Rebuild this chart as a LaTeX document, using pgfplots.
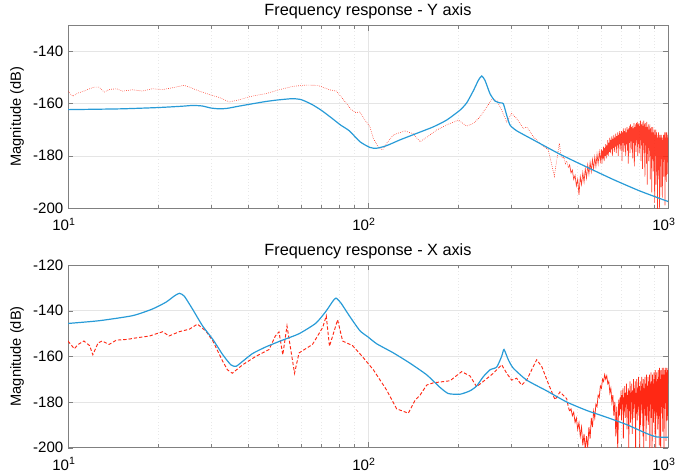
\documentclass[border=0pt]{standalone}
\usepackage{fontspec}
\setmainfont{Liberation Sans}
\usepackage{pgfplots}
\pgfplotsset{compat=1.18}

\definecolor{mblue}{RGB}{40,155,215}
\definecolor{mred}{RGB}{255,40,20}

\begin{document}
\begin{tikzpicture}
% ---- Y axis ----
\begin{axis}[
  width=450pt, height=137pt, scale only axis,
  at={(0,0)}, anchor=south west,
  xmode=log, xmin=10, xmax=1000,
  xtick={10,100,1000},
  xticklabels={10\textsuperscript{1},10\textsuperscript{2},10\textsuperscript{3}},
  minor xtick={20,30,40,50,60,70,80,90,200,300,400,500,600,700,800,900},
  ymin=-200, ymax=-130, ytick={-200,-180,-160,-140},
  grid=both,
  major grid style={black!10},
  minor grid style={black!9, dotted},
  axis line style={black!50},
  tick style={black!50},
  major tick length=4pt, minor tick length=2.5pt,
  ylabel={Magnitude (dB)},
  tick label style={font=\fontsize{11.3}{12}\selectfont},
  xticklabel style={yshift=-4pt, xshift=-3pt},
  label style={font=\fontsize{11}{13}\selectfont},
  title style={font=\fontsize{12.2}{13}\selectfont, yshift=-5pt},
  /pgf/number format/assume math mode=true,
  title={Frequency response - Y axis}]
\addplot[color=mred, line width=0.45pt, densely dotted] coordinates {
(10,-155.2) (10.37,-157.2) (10.77,-156) (11.3,-155.2) (11.8,-154.3) (12.2,-153.7) (12.7,-153.7)
(13.2,-155.6) (13.7,-154.6) (14.5,-154.3) (15.2,-155.2) (16.4,-154.7) (17.7,-155.2) (19.1,-154.3)
(20.7,-154.6) (22.3,-153.9) (24.4,-153) (25.4,-153.7) (27.4,-155.2) (29.6,-156.5) (32,-157.7)
(34.5,-159.4) (37.2,-158.5) (41.2,-157.1) (45.6,-156.2) (50.5,-154.7) (56,-153.4) (62,-152.9)
(68,-153) (74.5,-154.7) (78.4,-155.2) (82.3,-158.1) (87.8,-162.2) (91,-163.4) (94,-163.2)
(97.7,-166.3) (101.5,-168.9) (104.2,-173.3) (108.2,-176.7) (111.9,-177.7) (115.4,-175.2)
(121.5,-172) (132.8,-170.4) (141.6,-171.6) (149.1,-174.6) (156.9,-172.9) (169.4,-170.1)
(182.9,-168.2) (200,-166.3) (213.3,-168.6) (224.4,-167.6) (236.2,-165.1) (248.6,-161.3)
(258.4,-158.5) (268.5,-158.7) (279,-162.5) (289.9,-167) (301.2,-163.8) (313,-165.7)
(329.4,-169.5) (338,-168.9) (355.8,-172.7) (379.3,-175.8) (399.1,-177.7) (417.9,-187.8)
(434.3,-175.2) (440,-180) (445,-181) (450,-180.5) (455,-183) (460,-182) (465,-184.5)
};
\addplot[color=mred, line width=0.5pt, opacity=0.9] coordinates {
(465,-184.5) (470,-183.5) (475,-186.5)
(480,-185.5) (485,-189) (490,-187.5) (495,-191.5) (500,-189) (505,-195) (510,-188) (515,-191)
(520,-186.5) (525,-190) (530,-185) (535,-188.5) (540,-183.5) (545,-187) (550,-182.5) (555,-186)
(560,-181.5) (565,-185) (570,-180.5) (575,-184) (580,-179.5) (585,-183) (590,-178.5) (595,-182)
(600,-177.5) (602.5,-183) (605,-178) (607.5,-181) (610,-176.5) (612.5,-182) (615,-177) (617.5,-180)
(620,-175.5) (622.5,-181) (625,-176) (627.5,-179.5) (630,-174) (632.5,-180) (635,-175) (637.5,-178.5)
(640,-173) (642.5,-179) (645,-174) (647.5,-177.5) (650,-172.5) (652.5,-180) (655,-173.5) (657.5,-177)
(660,-172) (662.5,-178.5) (665,-173) (667.5,-176.5) (670,-171.5) (672.5,-179) (675,-172.5) (677.5,-176)
(680,-171) (682.5,-180) (685,-172) (687.5,-175.5) (690,-170.5) (692.5,-178) (695,-171.5) (697.5,-176)
(700,-170.5) (702.5,-182) (705,-171) (707.5,-175) (710,-169.5) (712.5,-178.5) (715,-170.5) (717.5,-176)
(720,-169.5) (722.5,-180) (725,-171) (727.5,-175.5) (730,-169) (732.5,-178) (735,-170) (737.5,-183)
(740,-169.5) (742.5,-175) (745,-168.5) (747.5,-179) (750,-168) (752.5,-174.5) (755,-169) (757.5,-177.5)
(760,-168.5) (762.5,-181) (765,-169.5) (767.5,-175) (770,-167.5) (772.5,-184) (775,-169) (777.5,-176)
(780,-168) (782.5,-178.5) (785,-167.5) (787.5,-174) (790,-167) (792.5,-180) (795,-168) (797.5,-175.5)
(800,-167.5) (802.5,-179) (805,-168.5) (807.5,-174) (810,-166.5) (812.5,-182) (815,-168) (817.5,-176)
(820,-167) (822.5,-185) (825,-168.5) (827.5,-175) (830,-166.5) (832.5,-179) (835,-168) (837.5,-188)
(840,-167.5) (842.5,-176) (845,-169) (847.5,-183) (850,-167) (852.5,-191) (855,-169) (857.5,-177)
(860,-168) (862.5,-182) (865,-170) (867.5,-178) (870,-168) (872.5,-189) (875,-169.5) (877.5,-180)
(880,-169) (882.5,-194) (885,-171) (887.5,-179) (890,-169) (892.5,-186) (895,-171) (897.5,-182)
(900,-170) (902.5,-198) (905,-172) (907.5,-180) (910,-170) (912.5,-191) (915,-171) (917.5,-184)
(920,-172) (922.5,-201) (925,-173) (927.5,-181) (930,-171) (932.5,-189) (935,-172) (937.5,-201)
(940,-173) (942.5,-184) (945,-172) (947.5,-192) (950,-172) (952.5,-180) (955,-173) (957.5,-196)
(960,-174) (962.5,-182) (965,-172) (967.5,-188) (970,-172) (972.5,-179) (975,-171) (977.5,-199)
(980,-173) (982.5,-184) (985,-171) (987.5,-190) (990,-171) (992.5,-180) (995,-172) (997.5,-187)
(1000,-173)
};
\addplot[color=mblue, line width=0.9pt, smooth, tension=0.35] coordinates {
(10,-162.3) (15,-162) (20,-161.5) (24,-161) (26,-160.7) (28,-160.9) (30,-161.7) (32,-162)
(34,-161.8) (37,-161) (41,-160.1) (45.6,-159.2) (50,-158.6) (56,-158.1) (60,-158.5) (65,-160.3)
(70,-162.6) (76,-165.7) (81,-168.2) (86.6,-170.4) (94,-174.6) (101.5,-176.8) (106.9,-177.1)
(115.4,-176.1) (127.8,-173.9) (145.3,-171.4) (165.1,-168.9) (182.9,-166.3) (202.6,-162.5)
(213.3,-159.7) (224.4,-155.1) (233.2,-151.1) (239.3,-149.4) (245.5,-151.1) (255.1,-156.2)
(265.1,-159) (275.4,-159.7) (282.5,-160) (289.9,-164.4) (297.4,-168.2) (313,-170.4)
(355.8,-173.9) (436.5,-179.4) (535.8,-184.3) (657.4,-189.1) (806.6,-193.5) (1000,-197.5)
};
\end{axis}

% ---- X axis ----
\begin{axis}[
  width=450pt, height=137pt, scale only axis,
  at={(0,-42.75pt)}, anchor=north west,
  xmode=log, xmin=10, xmax=1000,
  xtick={10,100,1000},
  xticklabels={10\textsuperscript{1},10\textsuperscript{2},10\textsuperscript{3}},
  minor xtick={20,30,40,50,60,70,80,90,200,300,400,500,600,700,800,900},
  ymin=-200, ymax=-120, ytick={-200,-180,-160,-140,-120},
  grid=both,
  major grid style={black!10},
  minor grid style={black!9, dotted},
  axis line style={black!50},
  tick style={black!50},
  major tick length=4pt, minor tick length=2.5pt,
  ylabel={Magnitude (dB)},
  tick label style={font=\fontsize{11.3}{12}\selectfont},
  xticklabel style={yshift=-4pt, xshift=-3pt},
  label style={font=\fontsize{11}{13}\selectfont},
  title style={font=\fontsize{12.2}{13}\selectfont, yshift=-5pt},
  /pgf/number format/assume math mode=true,
  title={Frequency response - X axis}]
\addplot[color=mred, line width=0.7pt, dash pattern=on 2.5pt off 1.5pt] coordinates {
(10,-153.3) (10.5,-156.7) (10.8,-154.8) (11.3,-153.3) (11.8,-155.3) (12.1,-159.3) (12.6,-154.1)
(13,-153.3) (13.7,-154.8) (14.5,-152.9) (15.7,-152.6) (16.9,-151.9) (18.7,-151.1) (20.7,-149.2)
(21.7,-151.1) (23.5,-149.2) (25.4,-148.1) (27,-145.9) (28.8,-148.9) (30.4,-153.3) (32.8,-162.2)
(34,-165.9) (35.3,-167.4) (38.2,-163.7) (42.3,-160) (46.8,-157) (49.1,-151.1) (50.5,-149.3)
(52,-159.3) (53.7,-146.7) (56.9,-167.4) (58.9,-158.5) (65.3,-154.8) (70.6,-147.4) (72.6,-142.3)
(74.4,-155.6) (79.2,-144) (82.3,-153.3) (88.8,-155.3) (95.2,-159.7) (104.2,-165.9) (115.4,-174.8)
(124.6,-183) (136.3,-184.9) (143.4,-179.3) (149.1,-177) (156.9,-172.6) (165.1,-171.6)
(187.7,-170.7) (205.2,-166.7) (218.8,-168.6) (230.2,-173.3) (245.5,-170.4) (261.7,-167.4)
(279,-163.7) (289.9,-167.4) (301.2,-170.4) (313,-169.6) (325.2,-172.6) (338,-170.4)
(351.3,-165.9) (365,-161.5) (379.3,-164.4) (399.1,-171.9) (420.1,-179) (436.5,-175.6)
(459.4,-178.5) (465,-182) (470,-184)
};
\addplot[color=mred, line width=0.55pt] coordinates {
(470,-184) (475,-183) (480,-186) (485,-184.5) (490,-189) (495,-187) (500,-192)
(505,-189) (510,-195) (515,-191) (520,-199) (525,-194) (530,-201) (535,-195) (540,-200)
(545,-191) (550,-196) (555,-187) (560,-191) (565,-184) (570,-187) (575,-181) (580,-182)
(585,-177) (590,-178) (595,-173) (600,-174) (605,-170) (610,-171) (615,-168) (620,-170)
(625,-168.5) (630,-172) (635,-171) (640,-176) (645,-174) (650,-180) (655,-177) (660,-186)
(665,-180) (670,-195) (675,-182) (680,-201) (685,-179)
(690,-186) (692.5,-178) (695,-183) (697.5,-175) (700,-188) (702.5,-177) (705,-181) (707.5,-174)
(710,-196) (712.5,-178) (715,-184) (717.5,-173) (720,-187) (722.5,-176) (725,-181) (727.5,-172)
(730,-192) (732.5,-177) (735,-183) (737.5,-174) (740,-201) (742.5,-175) (745,-184) (747.5,-171)
(750,-189) (752.5,-176) (755,-180) (757.5,-172) (760,-194) (762.5,-175) (765,-183) (767.5,-170)
(770,-187) (772.5,-174) (775,-180) (777.5,-171) (780,-201) (782.5,-176) (785,-185) (787.5,-170)
(790,-188) (792.5,-174) (795,-182) (797.5,-169) (800,-186) (802.5,-173) (805,-201) (807.5,-171)
(810,-190) (812.5,-175) (815,-181) (817.5,-169) (820,-185) (822.5,-172) (825,-195) (827.5,-170)
(830,-201) (832.5,-174) (835,-183) (837.5,-169) (840,-186) (842.5,-172) (845,-197) (847.5,-168)
(850,-188) (852.5,-173) (855,-182) (857.5,-169) (860,-190) (862.5,-171) (865,-184) (867.5,-168)
(870,-201) (872.5,-172) (875,-181) (877.5,-167) (880,-187) (882.5,-171) (885,-201) (887.5,-168)
(890,-183) (892.5,-172) (895,-189) (897.5,-167) (900,-181) (902.5,-170) (905,-194) (907.5,-166)
(910,-201) (912.5,-171) (915,-180) (917.5,-167) (920,-186) (922.5,-170) (925,-192) (927.5,-166)
(930,-182) (932.5,-169) (935,-199) (937.5,-165) (940,-178) (942.5,-170) (945,-201) (947.5,-166)
(950,-185) (952.5,-168) (955,-180) (957.5,-165) (960,-193) (962.5,-169) (965,-177) (967.5,-165)
(970,-201) (972.5,-168) (975,-183) (977.5,-166) (980,-176) (982.5,-165) (985,-197) (987.5,-167)
(990,-181) (992.5,-165) (995,-188) (997.5,-166) (1000,-172)
};
\addplot[color=mblue, line width=0.9pt, smooth, tension=0.35] coordinates {
(10,-145.6) (12.7,-144.4) (16.4,-142.2) (19.1,-139.3) (21.2,-136.3) (22.6,-133.6) (23.5,-132.4)
(24.4,-133.6) (26,-139.3) (28.1,-146.7) (30.4,-152.6) (32.8,-159.3) (34.9,-163.7) (36.3,-164.4)
(38.2,-162.2) (41.2,-158.8) (45.6,-155.9) (51.9,-152.9) (58.9,-150.1) (67,-145.5) (72.3,-140.4)
(76.2,-136) (78.2,-134.5) (81.2,-136.6) (86.6,-142.2) (94,-148.8) (100,-151.5) (106.9,-154.5)
(121.5,-158.5) (138,-163) (156.9,-168.1) (173.8,-173.6) (185.3,-176.3) (202.6,-176.6)
(218.8,-175.1) (230.2,-173) (242.3,-168.9) (255.1,-165.9) (268.5,-164.7) (279,-160) (284,-157)
(293.6,-161.5) (305.1,-165.2) (338,-170.4) (394,-175.1) (459.4,-180) (535.8,-183.7)
(624.6,-186.7) (728.2,-189.9) (849.1,-193.8) (916.8,-195.3) (1000,-195.4)
};
\end{axis}
\pgfresetboundingbox
\path (-51pt,156pt) rectangle (468pt,-200.25pt);
\end{tikzpicture}
\end{document}
